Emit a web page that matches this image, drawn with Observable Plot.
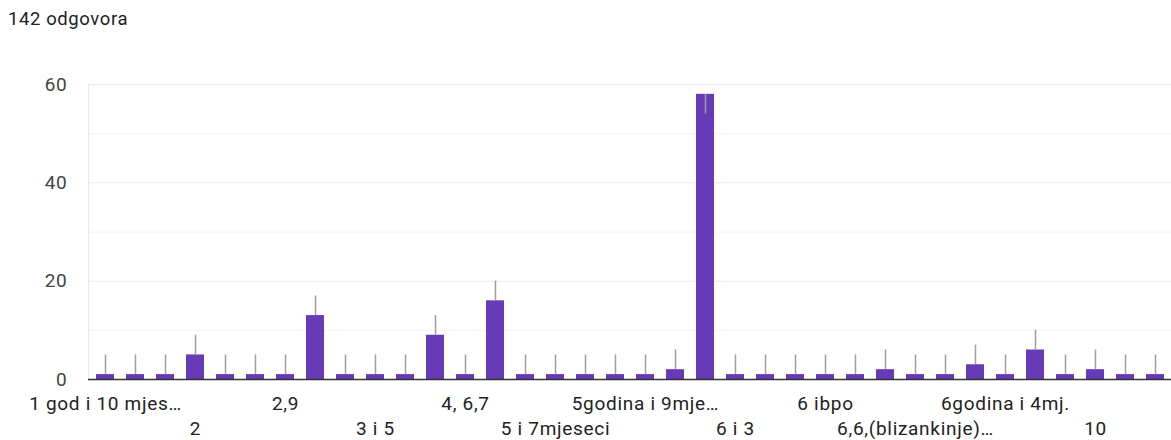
<!DOCTYPE html>
<html>
<head>
<meta charset="utf-8">
<script src="https://cdn.jsdelivr.net/npm/d3@7"></script>
<script src="https://cdn.jsdelivr.net/npm/@observablehq/plot@0.6"></script>
<style>
  body { margin: 0; background: #fff; font-family: Roboto, "Noto Sans", sans-serif; }
  #wrap { position: relative; width: 1171px; height: 440px; overflow: hidden; }
  #sub { position: absolute; left: 8px; top: 8px; font-size: 18.5px; letter-spacing: 0.6px; line-height: 22px; color: #202124; }
</style>
</head>
<body>
<div id="wrap"><div id="sub">142 odgovora</div></div>
<script>
// Bar values (count of answers per category, in chart order)
const values = [1,1,1,5,1,1,1,13,1,1,1,9,1,16,1,1,1,1,1,2,58,1,1,1,1,1,2,1,1,3,1,6,1,2,1,1];
// Visible x tick labels (every third category)
const tickLabels = ["1 god i 10 mjes…","2","2,9","3 i 5","4, 6,7","5 i 7mjeseci","5godina i 9mje…","6 i 3","6 ibpo","6,6,(blizankinje)…","6godina i 4mj.","10"];
const yTicks = [0,20,40,60];
const yMinor = [10,30,50];
const whisker = 4;
const yMax = 60;

const data = values.map((v, i) => ({i, v,
  lo: v + whisker > yMax ? v - whisker : v,
  hi: v + whisker > yMax ? v : v + whisker}));
const labels = tickLabels.map((t, k) => ({t, i: k * 3, row: k % 2}));

const axisFont = "Roboto, 'Noto Sans', sans-serif";

const chart = Plot.plot({
  width: 1171,
  height: 440,
  marginLeft: 88,
  marginRight: 0,
  marginTop: 84,
  marginBottom: 61,
  style: {fontFamily: axisFont, background: "#fff", overflow: "visible", letterSpacing: "0.7px"},
  x: {type: "band", domain: d3.range(values.length), paddingInner: 0.4, paddingOuter: 0.2, axis: null},
  y: {domain: [0, yMax], axis: null},
  marks: [
    Plot.gridY(yMinor, {stroke: "#f4f4f4", strokeOpacity: 1}),
    Plot.gridY([20, 40, 60], {stroke: "#e9e9e9", strokeOpacity: 1}),
    Plot.frame({anchor: "left", stroke: "#e9e9e9"}),
    Plot.axisY(yTicks, {tickSize: 0, tickPadding: 21, fontSize: 19, fill: "#444", textStroke: "none"}),
    Plot.barY(data, {x: "i", y: "v", fill: "#673ab7"}),
    Plot.ruleX(data, {x: "i", y1: "lo", y2: "hi", stroke: "#9e9e9e", strokeWidth: 1.5}),
    Plot.ruleY([0], {stroke: "#333", strokeWidth: 1.5}),
    Plot.text(labels, {x: "i", y: () => 0, text: "t", fontSize: 19, fill: "#222", lineAnchor: "middle",
      filter: (d) => d.row === 0, dy: 24}),
    Plot.text(labels, {x: "i", y: () => 0, text: "t", fontSize: 19, fill: "#222", lineAnchor: "middle",
      filter: (d) => d.row === 1, dy: 49})
  ]
});
document.getElementById("wrap").prepend(chart);
chart.style.position = "absolute";
chart.style.left = "0";
chart.style.top = "0";
</script>
</body>
</html>
